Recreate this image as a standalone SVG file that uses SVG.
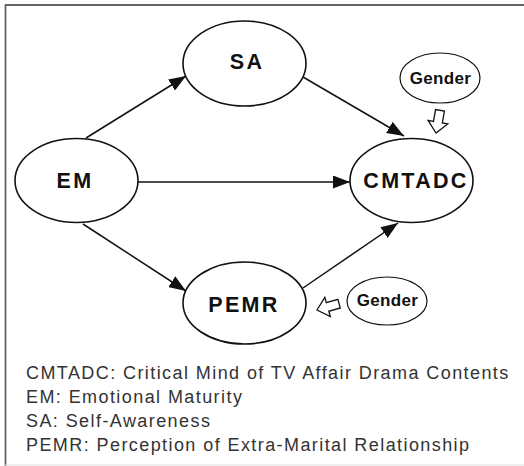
<svg xmlns="http://www.w3.org/2000/svg" width="524" height="466" viewBox="0 0 524 466">
<defs>
<style>
.node{fill:#fff;stroke:#111;stroke-width:1.6}
.small{fill:#fff;stroke:#111;stroke-width:1.2}
.lbl{font-family:"Liberation Sans",Arial,sans-serif;font-weight:bold;font-size:21.5px;letter-spacing:2.3px;fill:#111;text-anchor:middle}
.glbl{font-family:"Liberation Sans",Arial,sans-serif;font-weight:bold;font-size:17px;letter-spacing:0.3px;fill:#111;text-anchor:middle}
.leg{font-family:"Liberation Sans",Arial,sans-serif;font-size:18px;letter-spacing:1.42px;fill:#333}
.edge{stroke:#111;stroke-width:1.5;fill:none;marker-end:url(#ah)}
.block{fill:#fff;stroke:#111;stroke-width:1.3;stroke-linejoin:miter}
</style>
<marker id="ah" markerUnits="userSpaceOnUse" markerWidth="17" markerHeight="13" viewBox="0 0 17 13" refX="17" refY="6.5" orient="auto">
<path d="M0,0 L17,6.5 L0,13 z" fill="#111"/>
</marker>
<polygon id="blk" points="0,0 -10,-11 -4.5,-11 -4.5,-23 4.5,-23 4.5,-11 10,-11"/>
</defs>
<rect x="0" y="0" width="524" height="466" fill="#fff"/>
<path d="M5.5,466 L5.5,5 L524,5" fill="none" stroke="#666" stroke-width="1.8"/>
<line x1="5" y1="465" x2="524" y2="465" stroke="#ddd" stroke-width="1"/>
<g id="connectors">
<line class="edge" x1="86" y1="138" x2="186" y2="76"/>
<line class="edge" x1="303" y1="77" x2="404" y2="136"/>
<line class="edge" x1="138" y1="182" x2="350" y2="182"/>
<line class="edge" x1="83" y1="224" x2="186" y2="291"/>
<line class="edge" x1="303" y1="288" x2="398" y2="223"/>
<use href="#blk" class="block" transform="translate(436,133) rotate(10)"/>
<use href="#blk" class="block" transform="translate(317,310) rotate(74)"/>
</g>
<g id="SA">
<ellipse class="node" cx="244.5" cy="63.5" rx="61.5" ry="42.5"/>
<text class="lbl" x="247" y="68.5">SA</text>
</g>
<g id="EM">
<ellipse class="node" cx="76.5" cy="180.5" rx="61.5" ry="42"/>
<text class="lbl" x="75" y="188">EM</text>
</g>
<g id="CMTADC">
<ellipse class="node" cx="411.5" cy="180.5" rx="61.5" ry="42"/>
<text class="lbl" x="416" y="188">CMTADC</text>
</g>
<g id="PEMR">
<ellipse class="node" cx="244.5" cy="303" rx="61.5" ry="41"/>
<text class="lbl" x="244" y="311.5">PEMR</text>
</g>
<g id="Gender1">
<ellipse class="small" cx="440" cy="78" rx="40" ry="25"/>
<text class="glbl" x="440.5" y="84">Gender</text>
</g>
<g id="Gender2">
<ellipse class="small" cx="387" cy="301" rx="40" ry="24"/>
<text class="glbl" x="387.5" y="306">Gender</text>
</g>
<g id="legend">
<text class="leg" x="26" y="379">CMTADC: Critical Mind of TV Affair Drama Contents</text>
<text class="leg" x="26" y="403">EM: Emotional Maturity</text>
<text class="leg" x="26" y="427">SA: Self-Awareness</text>
<text class="leg" x="26" y="451">PEMR: Perception of Extra-Marital Relationship</text>
</g>
</svg>
